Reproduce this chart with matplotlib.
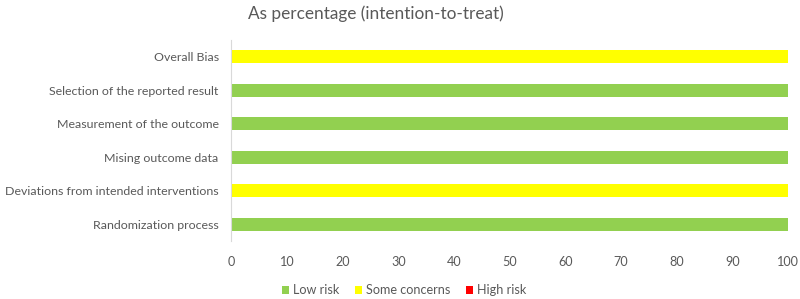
import numpy as np
import matplotlib
matplotlib.use("Agg")
import matplotlib.pyplot as plt

# domains, bottom to top
domains = ["Randomization process", "Deviations from intended interventions",
           "Mising outcome data", "Measurement of the outcome",
           "Selection of the reported result", "Overall Bias"]
low_risk = [100, 0, 100, 100, 100, 0]
some_concerns = [0, 100, 0, 0, 0, 100]
high_risk = [0, 0, 0, 0, 0, 0]
x_ticks = [0, 10, 20, 30, 40, 50, 60, 70, 80, 90, 100]

plt.rcParams['font.family'] = ['Lato', 'DejaVu Sans']
grey = "#595959"

fig = plt.figure(figsize=(8, 2.99), dpi=100)
ax = fig.add_axes([0.289, 0.194, 0.696, 0.672])

y = np.arange(len(domains))
h = 0.39
low = np.array(low_risk)
some = np.array(some_concerns)
high = np.array(high_risk)
ax.barh(y, low, height=h, color="#92D050", label="Low risk")
ax.barh(y, some, height=h, left=low, color="#FFFF00", label="Some concerns")
ax.barh(y, high, height=h, left=low + some, color="#FF0000", label="High risk")

ax.set_xlim(0, 100)
ax.set_ylim(-0.5, len(domains) - 0.5)
ax.set_yticks(y)
ax.set_yticklabels(domains, fontsize=8.9, color=grey)
ax.set_xticks(x_ticks)
ax.set_xticklabels([str(t) for t in x_ticks], fontsize=9.1, color=grey)
ax.tick_params(length=0)
ax.tick_params(axis='y', pad=9)
ax.tick_params(axis='x', pad=11)
for s in ["top", "right", "bottom"]:
    ax.spines[s].set_visible(False)
ax.spines["left"].set_color("#D9D9D9")

fig.text(0.47, 0.955, "As percentage (intention-to-treat)", ha="center", va="center",
         fontsize=12.4, color=grey)

fig.legend(loc="center", bbox_to_anchor=(0.505, 0.03), ncol=3, frameon=False,
           fontsize=9.1, labelcolor=grey, handlelength=0.6, handleheight=0.6,
           handletextpad=0.3, columnspacing=1.2)

plt.savefig("out.png", dpi=100)
